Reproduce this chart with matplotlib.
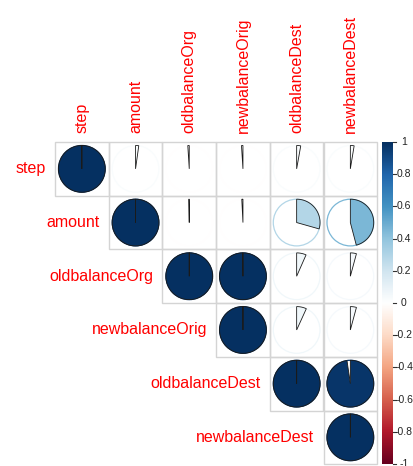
import numpy as np
import matplotlib
matplotlib.use("Agg")
import matplotlib.pyplot as plt
from matplotlib.colors import LinearSegmentedColormap
from matplotlib.patches import Circle, Polygon, Rectangle

# Variables and their pairwise correlations
variables = ["step", "amount", "oldbalanceOrg", "newbalanceOrig",
             "oldbalanceDest", "newbalanceDest"]
corr_step = [1.000, 0.022, -0.010, -0.010, 0.028, 0.026]
corr_amount = [0.022, 1.000, -0.003, -0.008, 0.294, 0.459]
corr_oldbalanceOrg = [-0.010, -0.003, 1.000, 0.999, 0.066, 0.042]
corr_newbalanceOrig = [-0.010, -0.008, 0.999, 1.000, 0.068, 0.042]
corr_oldbalanceDest = [0.028, 0.294, 0.066, 0.068, 1.000, 0.977]
corr_newbalanceDest = [0.026, 0.459, 0.042, 0.042, 0.977, 1.000]
legend_ticks = [-1, -0.8, -0.6, -0.4, -0.2, 0, 0.2, 0.4, 0.6, 0.8, 1]

corr = np.array([corr_step, corr_amount, corr_oldbalanceOrg,
                 corr_newbalanceOrig, corr_oldbalanceDest, corr_newbalanceDest])
n = len(variables)

palette = ["#67001F", "#B2182B", "#D6604D", "#F4A582", "#FDDBC7", "#FFFFFF",
           "#D1E5F0", "#92C5DE", "#4393C3", "#2166AC", "#053061"]
cmap = LinearSegmentedColormap.from_list("RdBu_corr", palette, N=200)

W, H = 414, 466
fig = plt.figure(figsize=(W / 100, H / 100), dpi=100)

# Pixel geometry of the matrix area
x0, y0 = 55.0, 142.0
cell = 53.7

ax = fig.add_axes([0, 0, 1, 1])
ax.set_xlim(-x0 / cell, (W - x0) / cell)
ax.set_ylim((H - y0) / cell, -y0 / cell)
ax.axis("off")

radius = 0.435
grid_col = "#D4D4D4"
lab_col = "#FF0000"
lab_font = ["Liberation Sans", "DejaVu Sans"]

for i in range(n):
    for j in range(i, n):
        ax.add_patch(Rectangle((j, i), 1, 1, fill=False, ec=grid_col, lw=1.0, zorder=1))
        v = corr[i, j]
        col = cmap((v + 1) / 2)
        cx, cy = j + 0.5, i + 0.5
        ax.add_patch(Circle((cx, cy), radius, fill=False, ec=col, lw=0.9, zorder=2))
        # wedge starting at 12 o'clock, clockwise for positive values
        theta = np.linspace(0, 2 * np.pi * v, max(int(abs(v) * 200), 2) + 1)
        px = cx + radius * np.sin(theta)
        py = cy - radius * np.cos(theta)
        pts = np.column_stack([np.r_[cx, px], np.r_[cy, py]])
        ax.add_patch(Polygon(pts, closed=True, fc=col, ec="#1A1A1A", lw=0.6, zorder=3))

# Row labels, to the left of each diagonal cell; column labels on top
gap = 9.0 / cell
for i, name in enumerate(variables):
    ax.text(i - gap, i + 0.5, name, ha="right", va="center", color=lab_col,
            fontsize=11.5, family=lab_font)
    ax.text(i + 0.5, -gap, name, ha="center", va="bottom", rotation=90,
            color=lab_col, fontsize=11.5, family=lab_font)

# Colour legend
cb_left, cb_right = 382.0, 393.0
cb_top, cb_bottom = 142.0, 464.0
cax = fig.add_axes([cb_left / W, 1 - cb_bottom / H,
                    (cb_right - cb_left) / W, (cb_bottom - cb_top) / H])
grad = np.linspace(-1, 1, 200).reshape(-1, 1)
cax.imshow(grad, cmap=cmap, vmin=-1, vmax=1, aspect="auto", origin="lower",
           extent=[0, 1, -1, 1])
cax.set_xlim(0, 1)
cax.set_ylim(-1, 1)
cax.axis("off")
for t in legend_ticks:
    cax.plot([1.0, 1.3], [t, t], color="#333333", lw=0.8, clip_on=False)
    cax.text(1.0 + 11.0 / (cb_right - cb_left), t, f"{t:g}", ha="center", va="center",
             fontsize=7.5, family=lab_font, color="#222222", clip_on=False)

fig.savefig("out.png", dpi=100, facecolor="white")
